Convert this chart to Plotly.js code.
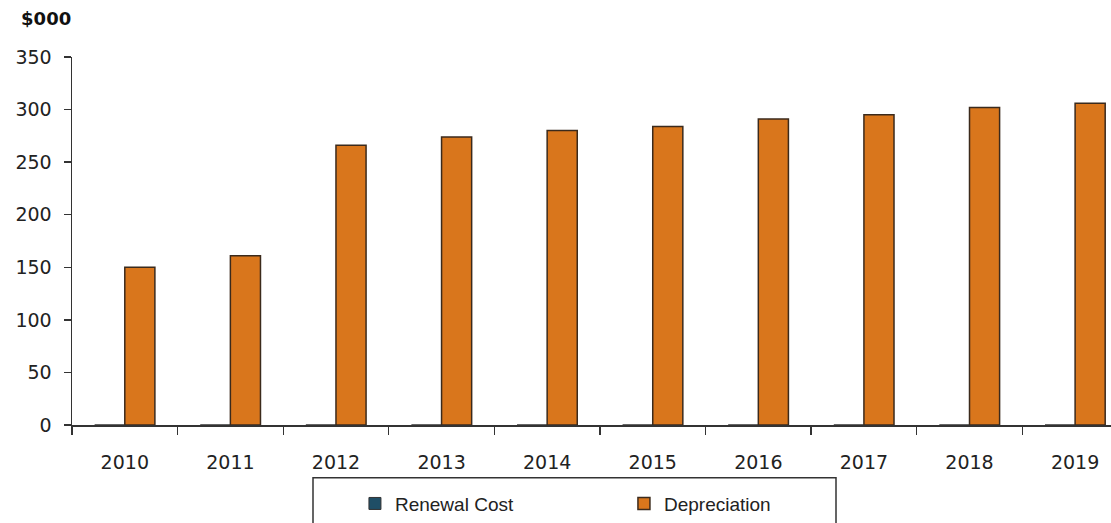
<!DOCTYPE html>
<html>
<head>
<meta charset="utf-8">
<script src="https://cdn.plot.ly/plotly-3.0.1.min.js"></script>
<style>html,body{margin:0;padding:0;background:#fff;}#chart{width:1111px;height:523px;}</style>
</head>
<body>
<div id="chart"></div>
<script>
var years = ['2010','2011','2012','2013','2014','2015','2016','2017','2018','2019'];
var renewalCost = [0, 0, 0, 0, 0, 0, 0, 0, 0, 0];
var depreciation = [150, 161, 266, 274, 280, 284, 291, 295, 302, 306];
var yTicks = [0, 50, 100, 150, 200, 250, 300, 350];

var traces = [
  {
    type: 'bar', name: 'Renewal Cost', x: years, y: renewalCost,
    marker: {color: '#1F4E66', line: {color: '#333', width: 1}},
    hoverinfo: 'skip'
  },
  {
    type: 'bar', name: 'Depreciation', x: years, y: depreciation,
    marker: {color: '#D9761C', line: {color: '#3b2a1c', width: 1.5}},
    hoverinfo: 'skip'
  }
];

var layout = {
  width: 1111, height: 523,
  margin: {l: 72, r: 0, t: 57, b: 96, pad: 0},
  paper_bgcolor: '#fff', plot_bgcolor: '#fff',
  barmode: 'group', bargap: 0.43, bargroupgap: 0,
  showlegend: true,
  title: {
    text: '<b>$000</b>', x: 0.019, xanchor: 'left', xref: 'container',
    y: 1 - 19/523, yanchor: 'middle', yref: 'container',
    font: {family: 'DejaVu Sans', size: 18, color: '#111'}
  },
  xaxis: {
    type: 'category', range: [-0.5, 9.34], tickson: 'boundaries',
    ticks: 'outside', ticklen: 8, tickwidth: 1.3, tickcolor: '#333',
    showline: true, linecolor: '#333', linewidth: 1.5,
    showgrid: false, zeroline: false, fixedrange: true,
    tickfont: {family: 'DejaVu Sans', size: 19, color: '#222'},
    ticklabelstandoff: 20
  },
  yaxis: {
    range: [0, 350], tickvals: yTicks, ticktext: yTicks.map(String),
    ticks: 'outside', ticklen: 7, tickwidth: 1.3, tickcolor: '#333',
    showline: true, linecolor: '#333', linewidth: 1.5,
    showgrid: false, zeroline: false, fixedrange: true,
    tickfont: {family: 'DejaVu Sans', size: 19, color: '#222'},
    ticklabelstandoff: 8
  },
  legend: {
    orientation: 'h', x: 0.255 + 18/1039, xanchor: 'left', y: -0.162, yanchor: 'top',
    borderwidth: 0, bgcolor: 'rgba(0,0,0,0)',
    entrywidthmode: 'pixels', entrywidth: 224,
    font: {family: 'Liberation Sans', size: 19, color: '#222'},
    traceorder: 'normal'
  },
  shapes: [
    {type: 'rect', xref: 'paper', yref: 'paper',
     x0: (313-72)/1039, x1: (836-72)/1039, y0: (427-480)/370, y1: (427-560)/370,
     line: {color: '#333', width: 1.5}, fillcolor: 'rgba(0,0,0,0)', layer: 'above'}
  ]
};

Plotly.newPlot('chart', traces, layout, {displayModeBar: false, staticPlot: true});
</script>
</body>
</html>
